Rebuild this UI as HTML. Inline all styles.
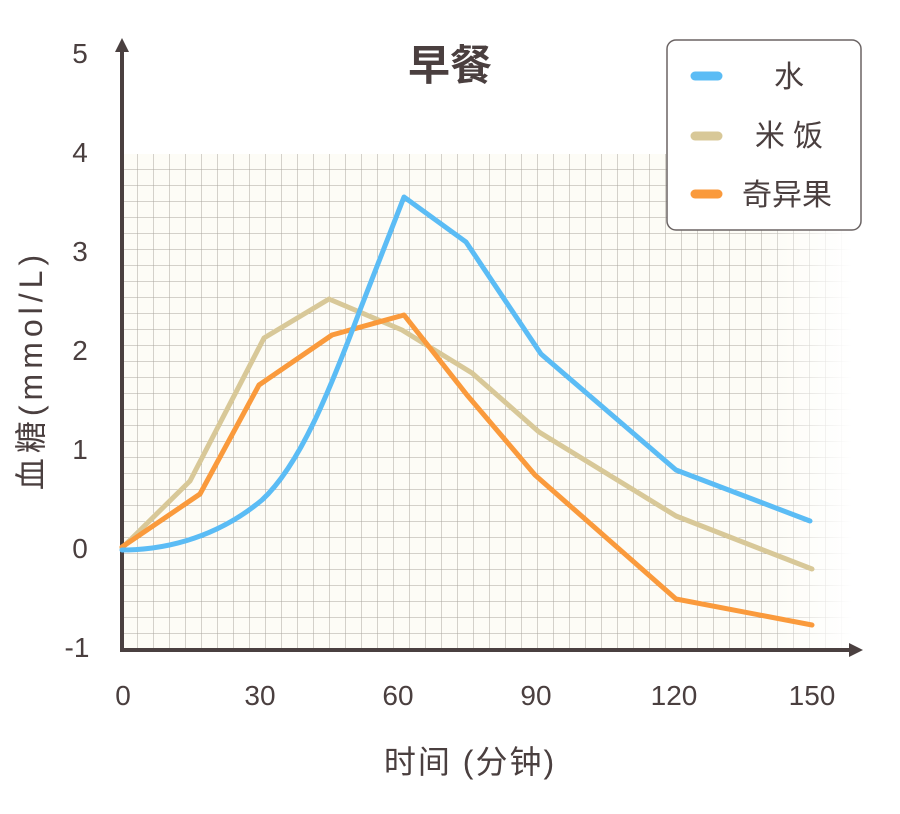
<!DOCTYPE html>
<html><head><meta charset="utf-8"><style>
body{margin:0;background:#fff;}
svg{display:block;}
text{font-family:"Liberation Sans","Noto Sans CJK SC",sans-serif;fill:#4a3f3f;}
</style></head><body>
<svg width="900" height="814" viewBox="0 0 900 814" xmlns="http://www.w3.org/2000/svg">
<defs>
<pattern id="g" x="122" y="154" width="16" height="16" patternUnits="userSpaceOnUse">
<path d="M16 0V16M0 16H16" stroke="#aaa69f" stroke-width="1" fill="none"/>
</pattern>
<linearGradient id="fade" x1="0" x2="1" y1="0" y2="0">
<stop offset="0.88" stop-color="#fff" stop-opacity="0"/>
<stop offset="1" stop-color="#fff" stop-opacity="1"/>
</linearGradient>
</defs>
<rect x="122" y="154" width="730" height="496" fill="#fdfcf6"/>
<rect x="122" y="154" width="730" height="496" fill="url(#g)"/>
<rect x="122" y="154" width="730" height="496" fill="url(#fade)"/>
<line x1="122" y1="652" x2="122" y2="50" stroke="#4a4040" stroke-width="4"/>
<polygon points="122,38 115,52 129,52" fill="#4a4040"/>
<line x1="120" y1="650" x2="852" y2="650" stroke="#4a4040" stroke-width="4"/>
<polygon points="863,650 849,643 849,657" fill="#4a4040"/>
<g font-size="28" text-anchor="middle">
<text x="80" y="63">5</text>
<text x="80" y="162">4</text>
<text x="80" y="261">3</text>
<text x="80" y="360">2</text>
<text x="80" y="459">1</text>
<text x="80" y="558">0</text>
<text x="77" y="657">-1</text>
<text x="123" y="705">0</text>
<text x="260" y="705">30</text>
<text x="398" y="705">60</text>
<text x="536" y="705">90</text>
<text x="674" y="705">120</text>
<text x="812" y="705">150</text>
</g>
<text x="470" y="773" font-size="32" text-anchor="middle" letter-spacing="2">时间 (分钟)</text>
<text transform="translate(42,370) rotate(-90)" font-size="32" text-anchor="middle" letter-spacing="5">血糖(mmol/L)</text>
<text x="450" y="80" font-size="42" font-weight="bold" text-anchor="middle">早餐</text>
<g fill="none" stroke-width="5" stroke-linecap="round" stroke-linejoin="round">
<polyline stroke="#d8c898" points="122,548 190,481 264,338 329,299 402,330 472,373 539,432 676,516 812,569"/>
<polyline stroke="#fa9a3c" points="122,547 200,494 259,385 332,335 404,315 467,395 535,475 676,599 812,625"/>
<path stroke="#5bbcf5" d="M122,550 C170,550 220,535 262,500 C300,465 330,390 360,310 L404,197 L466,242 L541,354 L676,470 L810,521"/>
</g>
<rect x="667" y="40" width="194" height="190" rx="9" fill="#fff" stroke="#6b6464" stroke-width="1.5"/>
<g stroke-width="9" stroke-linecap="round">
<line x1="695" y1="76" x2="718" y2="76" stroke="#5bbcf5"/>
<line x1="695" y1="136" x2="718" y2="136" stroke="#d8c898"/>
<line x1="695" y1="194" x2="718" y2="194" stroke="#fa9a3c"/>
</g>
<g font-size="30" text-anchor="middle">
<text x="789" y="87">水</text>
<text x="789" y="146">米 饭</text>
<text x="787" y="205">奇异果</text>
</g>
</svg>
</body></html>
